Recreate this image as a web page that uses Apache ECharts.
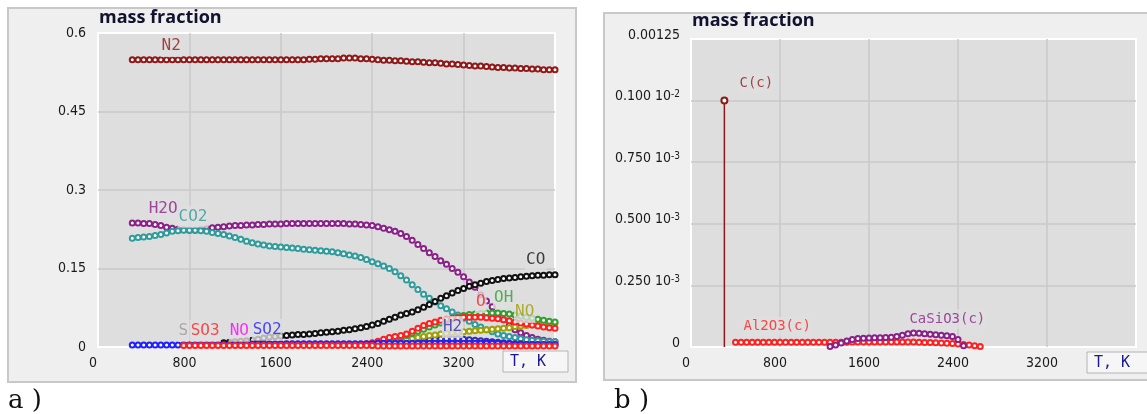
<!doctype html>
<html>
<head>
<meta charset="utf-8">
<title>mass fraction</title>
<script src="https://cdn.jsdelivr.net/npm/echarts@6.0.0/dist/echarts.min.js"></script>
<style>
html,body{margin:0;padding:0;background:#fff;}
#div_charts{width:1147px;height:414px;}
</style>
</head>
<body>
<div id="div_charts"></div>
<script>
// temperature grid, K (both panels)
var temps = [300,350,400,450,500,550,600,650,700,750,
	800,850,900,950,1000,1050,1100,1150,1200,1250,
	1300,1350,1400,1450,1500,1550,1600,1650,1700,1750,
	1800,1850,1900,1950,2000,2050,2100,2150,2200,2250,
	2300,2350,2400,2450,2500,2550,2600,2650,2700,2750,
	2800,2850,2900,2950,3000,3050,3100,3150,3200,3250,
	3300,3350,3400,3450,3500,3550,3600,3650,3700,3750,
	3800,3850,3900,3950,4000];

// a) gas phase, mass fraction
var n2 = [.549,.549,.549,.549,.549,.549,.549,.549,.549,.549,
	.549,.549,.549,.549,.549,.549,.549,.549,.549,.549,
	.549,.549,.549,.549,.549,.549,.549,.549,.549,.549,
	.549,.550,.550,.551,.551,.551,.551,.552,.552,.552,
	.551,.551,.550,.549,.548,.548,.547,.547,.546,.545,
	.545,.544,.543,.543,.542,.541,.541,.540,.539,.538,
	.537,.537,.536,.535,.534,.534,.533,.533,.532,.532,
	.531,.531,.530,.530,.530];
var h2o = [.237,.237,.236,.236,.234,.232,.229,.227,.225,.224,
	.223,.223,.224,.226,.228,.229,.230,.231,.232,.232,
	.233,.233,.234,.234,.235,.235,.235,.236,.236,.236,
	.236,.236,.236,.236,.236,.236,.236,.236,.235,.235,
	.234,.233,.232,.230,.227,.224,.221,.217,.211,.204,
	.196,.188,.180,.173,.165,.158,.150,.143,.134,.124,
	.114,.100,.088,.077,.064,.052,.041,.033,.027,.022,
	.018,.015,.013,.011,.010];
var co2 = [.208,.209,.210,.211,.213,.215,.218,.221,.222,.223,
	.223,.223,.222,.221,.219,.217,.215,.212,.209,.206,
	.202,.199,.197,.195,.193,.192,.191,.190,.189,.188,
	.187,.186,.185,.184,.183,.182,.180,.178,.176,.174,
	.171,.167,.163,.159,.155,.150,.144,.136,.128,.119,
	.110,.101,.093,.086,.079,.073,.067,.061,.055,.049,
	.043,.038,.033,.029,.025,.022,.020,.018,.016,.014,
	.013,.012,.011,.010,.010];
var co = [.008,.009,.010,.011,
	.012,.013,.015,.017,.019,.020,.021,.022,.023,.024,
	.024,.025,.026,.027,.028,.029,.030,.032,.033,.035,
	.037,.039,.042,.045,.049,.053,.057,.061,.064,.067,
	.071,.076,.081,.087,.093,.098,.103,.108,.112,.116,
	.119,.122,.125,.127,.129,.131,.132,.133,.134,.135,
	.136,.137,.137,.138,.138];
var o = [.006,
	.008,.011,.015,.018,.020,.022,.025,.030,
	.036,.041,.045,.048,.051,.053,.055,.056,.057,.057,
	.057,.057,.056,.055,.054,.052,.050,.048,.046,.044,
	.042,.040,.038,.037,.036];
var oh = [.004,.006,.008,.011,.014,.018,.022,.026,
	.030,.034,.038,.042,.046,.050,.054,.057,.060,.062,
	.063,.064,.065,.065,.065,.064,.063,.061,.059,.057,
	.055,.053,.051,.049,.048];
var no = [.003,.004,.006,.008,.010,.012,.014,.016,
	.018,.020,.022,.023,.025,.026,.027,.028,.029,.030,
	.031,.032,.033,.034,.035,.036,.037,.039,.040,.041,
	.042,.043,.044,.045,.046];
var h2 = [.003,.005,.007,.009,
	.011,.013,.014,.015,.016,.016,.016,.016,.015,.014,
	.013,.012,.011,.010,.009,.008,.007,.006,.006,.005,
	.005,.004,.004,.004,.004];
var so2 = [.004,.004,.004,.004,.004,.004,.004,.004,.004,.005,
	.005,.005,.005,.005,.005,.005,.005,.005,.005,.005,
	.006,.006,.006,.006,.006,.006,.006,.006,.006,.006,
	.006,.006,.006,.006,.006,.006,.006,.006,.006,.006,
	.006,.006,.006,.007,.007,.007,.007,.007,.007,.007,
	.007,.007,.007,.007,.007,.007,.007,.007,.007,.007,
	.007,.007,.007,.007,.007,.006,.006,.005,.005,.005,
	.005,.005,.005,.005,.005];
var so3 = [.003,
	.003,.003,.003,.003,.003,.003,.003,.003,.003,.003,
	.003,.003,.003,.003,.003,.003,.003,.003,.003,.003,
	.003,.003,.003,.003,.003,.003,.003,.003,.003,.003,
	.003,.003,.003,.002,.002,.002,.002,.002,.002,.002,
	.002,.002,.002,.002,.002,.002,.002,.002,.002,.002,
	.002,.002,.002,.002,.002,.002,.002,.002,.002,.002,
	.002,.002,.002,.002,.002];
// first temperature of each shorter series
var coFrom = 1100, oFrom = 2350, ohFrom = 2400, noFrom = 2400, h2From = 2600, so3From = 750;

// b) condensed phase, mass fraction
var cc = [0.001];          // C(c), 300 K only
var ccFrom = 300;
var al2o3 = [.000019,.000019,.000019,.000019,.000019,.000019,.000019,.000019,
	.000019,.000019,.000019,.000019,.000019,.000019,.000019,.000019,.000019,.000019,
	.000019,.000019,.000019,.00002,.00002,.00002,.00002,.00002,.00002,.00002,
	.00002,.00002,.00002,.00002,.00002,.000019,.000018,.000018,.000017,.000016,
	.000015,.000014,.000012,.00001,.000008,.000005,.000002];
var al2o3From = 400;
var casio3 = [.000002,.000008,.000016,.000024,.00003,.000034,.000036,.000037,.000038,.000038,
	.000039,.00004,.000043,.000048,.000054,.000057,.000056,.000054,.000052,.00005,
	.000048,.000046,.000043,.00003,.000005];
var casio3From = 1250;

// tick labels
var xTicks = ['0','800','1600','2400','3200',''];
var yTicksA = ['0','0.15','0.3','0.45','0.6'];
var yTicksB = ['0','0.250 10{s|-3}','0.500 10{s|-3}','0.750 10{s|-3}','0.100 10{s|-2}','0.00125'];

var tickFont = '"DejaVu Sans Condensed","Liberation Sans Narrow",sans-serif';
var monoFont = '"DejaVu Sans Mono",monospace';

function chain(vals, from, color, idx){
	var k = temps.indexOf(from);
	var d = vals.map(function(v, i){ return [temps[k + i], v]; });
	return {
		type:'line', xAxisIndex:idx, yAxisIndex:idx, data:d,
		symbol:'emptyCircle', symbolSize:5, showAllSymbol:true,
		lineStyle:{color:color, width:1}, itemStyle:{color:color, borderWidth:1},
		silent:true
	};
}

// series name tags, placed in data units (left edge / middle of text)
function tags(list, idx, size){
	return {
		type:'scatter', xAxisIndex:idx, yAxisIndex:idx, symbolSize:1, z:5, silent:true,
		itemStyle:{color:'transparent'},
		label:{show:true, position:'right', distance:0, fontFamily:monoFont, fontSize:size,
			backgroundColor:'#dedede', padding:[4,1,2,1]},
		data:list.map(function(t){
			return {value:[t[1], t[2]], label:{formatter:t[0], color:t[3]}};
		})
	};
}

var tagsA = [
	['N2', 543, 0.575, '#901818'],
	['H2O', 430, 0.264, '#8b208b'],
	['CO2', 692, 0.249, '#2f9c9c'],
	['S', 692, 0.031, '#9a9a9a'],
	['SO3', 798, 0.031, '#ff2020'],
	['NO', 1139, 0.031, '#ff00ff'],
	['SO2', 1341, 0.033, '#2020ff'],
	['CO', 3734, 0.166, '#111111'],
	['H2', 3006, 0.038, '#3030b0'],
	['O', 3295, 0.086, '#ff2020'],
	['OH', 3453, 0.094, '#30a030'],
	['NO', 3637, 0.067, '#a0a000']
];
var tagsB = [
	['C(c)', 422, 0.00107, '#901818'],
	['Al2O3(c)', 458, 0.000082, '#ff2020'],
	['CaSiO3(c)', 1950, 0.000114, '#8b208b']
];

function xAxisOf(idx){
	return {
		gridIndex:idx, type:'value', min:0, max:4000, interval:800,
		axisLine:{show:false}, axisTick:{show:false},
		splitLine:{show:true, showMinLine:false, showMaxLine:false, lineStyle:{color:'#c9c9c9', width:1.5}},
		axisLabel:{showMaxLabel:false, margin:9, padding:[0,10,0,0], color:'#1a1a1a', fontFamily:tickFont, fontSize:14,
			formatter:function(v){ return xTicks[Math.round(v / 800)]; }}
	};
}

var myChart = echarts.init(document.getElementById('div_charts'));
var option = {
	animation:false,
	title:[
		{text:'mass fraction', left:99, top:9, padding:0,
			textStyle:{fontFamily:'"Open Sans",sans-serif', fontWeight:'bold', fontSize:18, color:'#121230'}},
		{text:'mass fraction', left:692, top:12, padding:0,
			textStyle:{fontFamily:'"Open Sans",sans-serif', fontWeight:'bold', fontSize:18, color:'#121230'}}
	],
	grid:[
		{left:98, top:33, width:457, height:314, show:true, backgroundColor:'#dedede', borderColor:'#ffffff', borderWidth:2},
		{left:691, top:39, width:445, height:308, show:true, backgroundColor:'#dedede', borderColor:'#ffffff', borderWidth:2}
	],
	xAxis:[xAxisOf(0), xAxisOf(1)],
	yAxis:[
		{gridIndex:0, type:'value', min:0, max:0.6, interval:0.15,
			axisLine:{show:false}, axisTick:{show:false},
			splitLine:{show:true, showMinLine:false, showMaxLine:false, lineStyle:{color:'#c9c9c9', width:1.5}},
			axisLabel:{margin:12, padding:[0,0,8,0], color:'#1a1a1a', fontFamily:tickFont, fontSize:14,
				formatter:function(v){ return yTicksA[Math.round(v / 0.15)]; }}},
		{gridIndex:1, type:'value', min:0, max:0.00125, interval:0.00025,
			axisLine:{show:false}, axisTick:{show:false},
			splitLine:{show:true, showMinLine:false, showMaxLine:false, lineStyle:{color:'#c9c9c9', width:1.5}},
			axisLabel:{margin:11, padding:[0,0,8,0], color:'#1a1a1a', fontFamily:tickFont, fontSize:14,
				rich:{s:{fontSize:10, verticalAlign:'top', color:'#1a1a1a', fontFamily:tickFont}},
				formatter:function(v){ return yTicksB[Math.round(v / 0.00025)]; }}}
	],
	graphic:[
		{type:'rect', z:-10, shape:{x:8, y:8, width:568, height:374}, style:{fill:'#efefef', stroke:'#c8c8c8', lineWidth:2}},
		{type:'rect', z:-10, shape:{x:604, y:13, width:560, height:367}, style:{fill:'#efefef', stroke:'#c8c8c8', lineWidth:2}},
		{type:'rect', z:20, shape:{x:503, y:351, width:65, height:21}, style:{fill:'#f6f6f6', stroke:'#b4b4b4', lineWidth:1}},
		{type:'text', z:21, x:510, y:362, style:{text:'T, K', font:'15px "DejaVu Sans Mono"', fill:'#1a1a8c', verticalAlign:'middle'}},
		{type:'rect', z:20, shape:{x:1087, y:352, width:70, height:21}, style:{fill:'#f6f6f6', stroke:'#b4b4b4', lineWidth:1}},
		{type:'text', z:21, x:1094, y:363, style:{text:'T, K', font:'15px "DejaVu Sans Mono"', fill:'#1a1a8c', verticalAlign:'middle'}},
		{type:'text', z:21, x:8, y:401, style:{text:'a )', font:'26px "DejaVu Serif"', fill:'#111', verticalAlign:'middle'}},
		{type:'text', z:21, x:614, y:401, style:{text:'b )', font:'26px "DejaVu Serif"', fill:'#111', verticalAlign:'middle'}}
	],
	series:[
		chain(n2, 300, '#901818', 0),
		chain(h2o, 300, '#8b208b', 0),
		chain(co2, 300, '#2f9c9c', 0),
		chain(co, coFrom, '#111111', 0),
		chain(h2, h2From, '#3030b0', 0),
		chain(no, noFrom, '#a0a000', 0),
		chain(oh, ohFrom, '#30a030', 0),
		chain(o, oFrom, '#ff2020', 0),
		chain(so2, 300, '#2020ff', 0),
		chain(so3, so3From, '#ff2020', 0),
		tags(tagsA, 0, 16),
		{
			type:'line', xAxisIndex:1, yAxisIndex:1, silent:true,
			lineStyle:{color:'#901818', width:1.5}, itemStyle:{color:'#901818', borderWidth:1},
			symbolSize:6,
			data:[{value:[ccFrom, cc[0]], symbol:'emptyCircle'}, {value:[ccFrom, 0], symbol:'none'}]
		},
		chain(al2o3, al2o3From, '#ff2020', 1),
		chain(casio3, casio3From, '#8b208b', 1),
		tags(tagsB, 1, 14)
	]
};
myChart.setOption(option);
</script>
</body>
</html>
